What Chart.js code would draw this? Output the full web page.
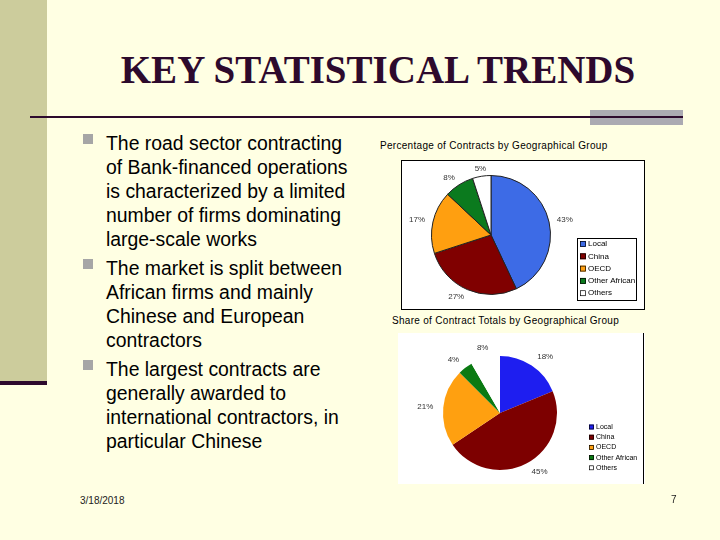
<!DOCTYPE html>
<html>
<head>
<meta charset="utf-8">
<script src="https://cdn.jsdelivr.net/npm/chart.js@4/dist/chart.umd.min.js"></script>
<style>
  html, body { margin:0; padding:0; }
  body { width:720px; height:540px; background:#FFFFE3; position:relative; overflow:hidden; font-family:"Liberation Sans", Arial, sans-serif; }
  .strip { position:absolute; left:0; top:0; width:47px; height:382px; background:#CCCC9C; }
  .stripbar { position:absolute; left:0; top:381px; width:47px; height:4px; background:#2D0A2D; }
  .hline { position:absolute; left:30px; top:116px; width:653px; height:2px; background:#2D0A2D; }
  .gray { position:absolute; left:590px; top:110px; width:93px; height:15px; background:#ABAAB2; }
  .title { position:absolute; left:0; width:756px; top:48px; text-align:center; font-family:"Liberation Serif","Times New Roman",serif; font-weight:bold; font-size:39px; color:#2D0A2D; line-height:44px; }
  .bullets { position:absolute; left:83px; top:131px; width:300px; font-size:19.4px; line-height:24px; color:#000; white-space:nowrap; }
  .item { position:relative; padding-left:23px; margin-bottom:5px; }
  .item::before { content:""; position:absolute; left:0; top:3px; width:10px; height:10px; background:#A6A6A6; }
  .ctitle { position:absolute; font-size:10px; letter-spacing:0.3px; color:#000; white-space:nowrap; }
  .foot { position:absolute; font-size:10px; color:#222; }
  #c1 { position:absolute; left:401px; top:160px; }
  #c2 { position:absolute; left:398px; top:333px; }
  .vline { position:absolute; left:643px; top:333px; width:1px; height:151px; background:#000; }
</style>
</head>
<body>
<div class="strip"></div>
<div class="stripbar"></div>
<div class="title">KEY STATISTICAL TRENDS</div>
<div class="gray"></div>
<div class="hline"></div>

<div class="bullets">
  <div class="item">The road sector contracting<br>of Bank-financed operations<br>is characterized by a limited<br>number of firms dominating<br>large-scale works</div>
  <div class="item">The market is split between<br>African firms and mainly<br>Chinese and European<br>contractors</div>
  <div class="item">The largest contracts are<br>generally awarded to<br>international contractors, in<br>particular Chinese</div>
</div>

<div class="ctitle" style="left:380px; top:140px;">Percentage of Contracts by Geographical Group</div>
<canvas id="c1" width="244" height="150"></canvas>

<div class="ctitle" style="left:392px; top:315px;">Share of Contract Totals by Geographical Group</div>
<canvas id="c2" width="247" height="151"></canvas>
<div class="vline"></div>

<div class="foot" style="left:80px; top:495px;">3/18/2018</div>
<div class="foot" style="left:671px; top:494px;">7</div>

<script>
// ---- data ----
const groups = ['Local', 'China', 'OECD', 'Other African', 'Others'];
const contractsPct = [43, 27, 17, 8, 5];
const totalsPct = [18, 45, 21, 4, 8];

// ---- styles ----
const colors1 = ['#3D6BE6', '#800000', '#FF9F10', '#0B7A1E', '#FFFFFF'];
const colors2 = ['#1E1EF0', '#7D0000', '#FFA010', '#0A7A12', '#FFFFFF'];

function labelsAndLegend(opts) {
  return {
    id: 'labelsAndLegend',
    beforeDraw(chart) {
      const ctx = chart.ctx;
      ctx.save();
      ctx.fillStyle = '#FFFFFF';
      ctx.fillRect(0, 0, chart.width, chart.height);
      if (opts.frame) {
        ctx.strokeStyle = '#000';
        ctx.lineWidth = 1;
        ctx.strokeRect(0.5, 0.5, chart.width - 1, chart.height - 1);
      }
      ctx.restore();
    },
    afterDatasetsDraw(chart) {
      const ctx = chart.ctx;
      const meta = chart.getDatasetMeta(0);
      const data = chart.data.datasets[0].data;
      ctx.save();
      ctx.font = opts.labelFont;
      ctx.fillStyle = '#333';
      ctx.textBaseline = 'middle';
      meta.data.forEach((arc, i) => {
        const p = arc.getProps(['x', 'y', 'startAngle', 'endAngle', 'outerRadius'], true);
        const mid = (p.startAngle + p.endAngle) / 2;
        const r = p.outerRadius + opts.labelGap;
        const lx = p.x + Math.cos(mid) * r;
        const ly = p.y + Math.sin(mid) * r;
        const c = Math.cos(mid);
        ctx.textAlign = c > 0.3 ? 'left' : (c < -0.3 ? 'right' : 'center');
        ctx.fillText(data[i] + '%', lx, ly);
      });
      // legend
      const L = opts.legend;
      if (L.box) {
        ctx.fillStyle = '#FFFFFF';
        ctx.fillRect(L.x, L.y, L.w, L.h);
        ctx.strokeStyle = '#000';
        ctx.lineWidth = 1;
        ctx.strokeRect(L.x + 0.5, L.y + 0.5, L.w - 1, L.h - 1);
      }
      ctx.font = L.font;
      ctx.textAlign = 'left';
      ctx.textBaseline = 'middle';
      chart.data.labels.forEach((lab, i) => {
        const y = L.y0 + i * L.step;
        ctx.fillStyle = chart.data.datasets[0].backgroundColor[i];
        ctx.fillRect(L.mx, y - L.ms / 2, L.ms, L.ms);
        ctx.strokeStyle = '#000';
        ctx.lineWidth = 0.7;
        ctx.strokeRect(L.mx + 0.5, y - L.ms / 2 + 0.5, L.ms - 1, L.ms - 1);
        ctx.fillStyle = '#000';
        ctx.fillText(lab, L.tx, y);
      });
      ctx.restore();
    }
  };
}

new Chart(document.getElementById('c1'), {
  type: 'pie',
  data: {
    labels: groups,
    datasets: [{ data: contractsPct, backgroundColor: colors1, borderColor: '#222', borderWidth: 1 }]
  },
  options: {
    responsive: false, animation: false,
    layout: { padding: { left: 30, right: 94, top: 15, bottom: 15 } },
    plugins: { legend: { display: false }, tooltip: { enabled: false } }
  },
  plugins: [labelsAndLegend({
    frame: true, labelFont: '8px "Liberation Sans", Arial', labelGap: 8,
    legend: { box: true, x: 176, y: 78, w: 60, h: 63, y0: 84, step: 12.3, mx: 179, ms: 6, tx: 187, font: '8px "Liberation Sans", Arial' }
  })]
});

new Chart(document.getElementById('c2'), {
  type: 'pie',
  data: {
    labels: groups,
    datasets: [{ data: totalsPct, backgroundColor: colors2, borderColor: '#FFFFFF', borderWidth: 0 }]
  },
  options: {
    responsive: false, animation: false,
    layout: { padding: { left: 45, right: 88, top: 23, bottom: 14 } },
    plugins: { legend: { display: false }, tooltip: { enabled: false } }
  },
  plugins: [labelsAndLegend({
    frame: false, labelFont: '8px "Liberation Sans", Arial', labelGap: 10,
    legend: { box: false, x: 0, y: 0, w: 0, h: 0, y0: 94, step: 10.2, mx: 191, ms: 5, tx: 198, font: '7px "Liberation Sans", Arial' }
  })]
});
</script>
</body>
</html>
